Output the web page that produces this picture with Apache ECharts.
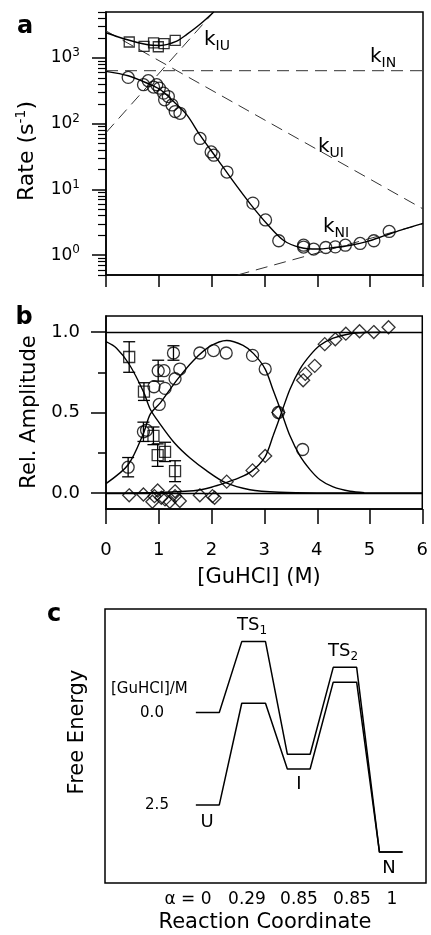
<!DOCTYPE html>
<html>
<head>
<meta charset="utf-8">
<script src="https://cdn.jsdelivr.net/npm/echarts@6/dist/echarts.min.js"></script>
<style>
html, body { margin: 0; padding: 0; background: #fff; }
#chartmain { width: 431px; height: 935px; }
</style>
</head>
<body>
<div id="chartmain"></div>
<script>
// ---- panel a: observed rates (s^-1) vs [GuHCl] (M)
var rateSquaresX = [0.44, 0.72, 0.9, 0.99, 1.1, 1.31];
var rateSquares = [1750, 1500, 1700, 1480, 1650, 1850];
var rateCirclesX = [0.42, 0.71, 0.80, 0.90, 0.96, 1.01, 1.09, 1.11, 1.18, 1.25, 1.31, 1.40, 1.78, 1.99, 2.04, 2.29, 2.78, 3.02, 3.27, 3.74, 3.74, 3.93, 4.16, 4.34, 4.53, 4.81, 5.07, 5.36];
var rateCircles = [506, 392, 451, 361, 392, 348, 292, 231, 259, 193, 153, 144, 59.7, 37.2, 33.2, 18.4, 6.2, 3.44, 1.66, 1.42, 1.33, 1.24, 1.31, 1.34, 1.42, 1.51, 1.66, 2.30];
var fastFitX = [0, 0.39, 0.77, 1.03, 1.34, 1.53, 1.78, 2.04];
var fastFit = [2420, 1910, 1600, 1550, 1800, 2280, 3250, 5000];
var slowFitX = [0, 0.42, 0.77, 1.03, 1.28, 1.53, 1.78, 2.1, 2.42, 2.73, 3.05, 3.37, 3.68, 4.0, 4.32, 4.63, 4.95, 5.27, 5.58, 6];
var slowFit = [626, 537, 416, 328, 217, 136, 67, 29.5, 12.9, 6.04, 2.98, 1.66, 1.31, 1.24, 1.31, 1.42, 1.62, 1.98, 2.41, 3.05];
var kINx = [0, 6], kIN = [640, 640];
var kUIx = [0, 6], kUI = [2580, 5.06];
var kIUx = [0, 2.04], kIU = [73, 5000];
var kNIx = [2.49, 6], kNI = [0.5, 3.0];
var rateTicks = [1, 10, 100, 1000];
var rateMinorTicks = [0.5, 0.6, 0.7, 0.8, 0.9, 2, 3, 4, 5, 6, 7, 8, 9, 20, 30, 40, 50, 60, 70, 80, 90,
  200, 300, 400, 500, 600, 700, 800, 900, 2000, 3000, 4000, 5000];

// ---- panel b: relative amplitudes
var ampSquaresX = [0.44, 0.72, 0.9, 0.98, 1.12, 1.31];
var ampSquares = [0.845, 0.63, 0.355, 0.235, 0.255, 0.135];
var ampSquaresErr = [0.095, 0.055, 0.055, 0.07, 0.06, 0.065];
var ampCirclesX = [0.42, 0.71, 0.77, 0.91, 0.99, 1.01, 1.10, 1.12, 1.28, 1.31, 1.40, 1.78, 2.04, 2.28, 2.78, 3.02, 3.27, 3.73];
var ampCircles = [0.16, 0.38, 0.39, 0.66, 0.76, 0.55, 0.76, 0.65, 0.87, 0.71, 0.77, 0.87, 0.885, 0.87, 0.855, 0.77, 0.5, 0.27];
var ampCirclesErr = [0.06, 0.06, 0, 0, 0.065, 0, 0, 0, 0.045, 0, 0, 0, 0, 0, 0, 0, 0, 0];
var ampDiamondsX = [0.44, 0.71, 0.88, 0.92, 0.98, 1.05, 1.12, 1.21, 1.31, 1.31, 1.40, 1.78, 2.02, 2.06, 2.29, 2.78, 3.02, 3.27, 3.74, 3.78, 3.96, 4.15, 4.35, 4.55, 4.81, 5.08, 5.36];
var ampDiamonds = [-0.015, -0.01, -0.055, -0.02, 0.015, -0.03, -0.04, -0.055, 0.01, -0.02, -0.05, -0.015, -0.02, -0.03, 0.07, 0.14, 0.23, 0.5, 0.70, 0.74, 0.79, 0.925, 0.955, 0.99, 1.005, 1.0, 1.03];
var fitUX = [0, 0.2, 0.44, 0.71, 0.84, 1.0, 1.3, 1.6, 1.9, 2.26, 2.73, 3.3, 4.0, 6.0];
var fitU = [0.94, 0.9, 0.8, 0.63, 0.52, 0.44, 0.31, 0.215, 0.14, 0.065, 0.02, 0.004, 0, 0];
var fitIX = [0, 0.42, 0.71, 0.84, 1.03, 1.34, 1.66, 1.97, 2.29, 2.6, 2.8, 3.02, 3.17, 3.33, 3.49, 3.68, 3.87, 4.06, 4.31, 4.63, 4.9];
var fitI = [0.058, 0.175, 0.37, 0.49, 0.56, 0.70, 0.824, 0.911, 0.948, 0.917, 0.866, 0.77, 0.64, 0.5, 0.355, 0.23, 0.145, 0.082, 0.037, 0.01, 0.002];
var fitNX = [0, 1.0, 1.5, 1.8, 2.0, 2.26, 2.5, 2.76, 3.02, 3.17, 3.33, 3.49, 3.68, 3.87, 4.06, 4.31, 4.63, 4.95, 5.3];
var fitN = [0, 0.003, 0.01, 0.02, 0.035, 0.062, 0.09, 0.134, 0.226, 0.355, 0.5, 0.645, 0.77, 0.855, 0.918, 0.963, 0.99, 0.998, 1.0];

// ---- panel c: free energy diagram (arbitrary units)
var stateNames = ['U', 'TS1', 'I', 'TS2', 'N'];
var stateStart = [28.3, 42.6, 56.8, 71.1, 85.5];
var stateEnd = [35.6, 50.0, 63.9, 78.4, 92.7];
var energy00 = [62.2, 88.1, 47.0, 78.7, 11.3];
var energy25 = [28.5, 65.6, 41.6, 73.3, 11.3];

function zip(xs, ys) {
  return xs.map(function (x, i) { return [x, ys[i]]; });
}
function profile(energies) {
  var d = [];
  for (var i = 0; i < energies.length; i++) {
    d.push([stateStart[i], energies[i]]);
    d.push([stateEnd[i], energies[i]]);
  }
  return d;
}

var FONT = 'DejaVu Sans';
var hollow = { color: 'rgba(0,0,0,0)', borderColor: '#000', borderWidth: 1.3 };
var fitStyle = { color: '#000', width: 1.4 };
var dashStyle = { color: '#333', width: 1, type: [12, 7] };

function fitLine(xi, yi, xs, ys, extra) {
  var s = {
    type: 'line', xAxisIndex: xi, yAxisIndex: yi, data: zip(xs, ys),
    smooth: 0.3, showSymbol: false, lineStyle: fitStyle, silent: true, z: 2
  };
  if (extra) for (var k in extra) s[k] = extra[k];
  return s;
}
function dashLine(xs, ys) {
  return {
    type: 'line', xAxisIndex: 0, yAxisIndex: 0, data: zip(xs, ys),
    showSymbol: false, lineStyle: dashStyle, silent: true, z: 1
  };
}
function dots(xi, yi, xs, ys, symbol, size) {
  return {
    type: 'scatter', xAxisIndex: xi, yAxisIndex: yi, data: zip(xs, ys),
    symbol: symbol, symbolSize: size, itemStyle: hollow, z: 5
  };
}
function errBars(xs, ys, es) {
  return {
    type: 'custom', xAxisIndex: 1, yAxisIndex: 2, z: 4, silent: true,
    data: xs.map(function (x, i) { return [x, ys[i], es[i]]; }).filter(function (d) { return d[2] > 0; }),
    renderItem: function (params, api) {
      var x = api.value(0), y = api.value(1), e = api.value(2);
      var top = api.coord([x, y + e]);
      var bot = api.coord([x, y - e]);
      var w = 6;
      var st = { stroke: '#000', lineWidth: 1.3 };
      return {
        type: 'group', children: [
          { type: 'line', shape: { x1: top[0], y1: top[1], x2: bot[0], y2: bot[1] }, style: st },
          { type: 'line', shape: { x1: top[0] - w, y1: top[1], x2: top[0] + w, y2: top[1] }, style: st },
          { type: 'line', shape: { x1: bot[0] - w, y1: bot[1], x2: bot[0] + w, y2: bot[1] }, style: st }
        ]
      };
    }
  };
}

var axisLine = { show: true, onZero: false, lineStyle: { color: '#000', width: 1.5 } };
var tickStyle = { color: '#000', width: 1.5 };
// thin strip under a panel whose split lines act as the outward x ticks
function tickStripAxis(gridIndex) {
  return { type: 'value', gridIndex: gridIndex, min: 0, max: 6, interval: 1,
    axisLine: { show: false }, axisTick: { show: false }, axisLabel: { show: false },
    splitLine: { show: true, lineStyle: { color: '#000', width: 1.5, type: 'solid' } } };
}
function hiddenY(gridIndex) {
  return { type: 'value', gridIndex: gridIndex, min: 0, max: 1, show: false, splitLine: { show: false } };
}

function txt(x, y, text, size, extra) {
  var style = { text: text, font: size + 'px "' + FONT + '"', fill: '#000', align: 'center', verticalAlign: 'middle' };
  if (extra) for (var k in extra) style[k] = extra[k];
  return { type: 'text', x: x, y: y, style: style, silent: true };
}
var subRich = {
  m: { fontFamily: FONT, fontSize: 20, lineHeight: 26, color: '#000' },
  s: { fontFamily: FONT, fontSize: 14, lineHeight: 14, verticalAlign: 'bottom', color: '#000' }
};
var subRichC = {
  m: { fontFamily: FONT, fontSize: 18, lineHeight: 24, color: '#000' },
  s: { fontFamily: FONT, fontSize: 12, lineHeight: 12, verticalAlign: 'bottom', color: '#000' }
};

var option = {
  animation: false,
  backgroundColor: '#fff',
  textStyle: { fontFamily: FONT },
  grid: [
    { left: 106, top: 12, width: 317, height: 263, show: true, borderColor: '#000', borderWidth: 1.5 },
    { left: 106, top: 316, width: 317, height: 193, show: true, borderColor: '#000', borderWidth: 1.5 },
    { left: 105, top: 609, width: 321, height: 274, show: true, borderColor: '#000', borderWidth: 1.5 },
    { left: 106, top: 275, width: 317, height: 12 },
    { left: 106, top: 509, width: 317, height: 15 }
  ],
  xAxis: [
    { type: 'value', gridIndex: 0, min: 0, max: 6, interval: 1, axisLine: axisLine,
      axisTick: { show: false }, axisLabel: { show: false }, splitLine: { show: false } },
    { type: 'value', gridIndex: 1, min: 0, max: 6, interval: 1, axisLine: axisLine,
      axisTick: { show: false },
      axisLabel: { margin: 32, fontSize: 18, color: '#000', fontFamily: FONT }, splitLine: { show: false } },
    { type: 'value', gridIndex: 2, min: 0, max: 100, show: false },
    tickStripAxis(3),
    tickStripAxis(4)
  ],
  yAxis: [
    { type: 'log', gridIndex: 0, position: 'left', min: 0.5, max: 5000, axisLine: axisLine,
      axisTick: { show: true, length: 14, lineStyle: tickStyle, customValues: rateTicks },
      axisLabel: {
        margin: 26, customValues: rateTicks, color: '#000',
        formatter: function (v) { return '{b|10}{p|' + Math.round(Math.log10(v)) + '}'; },
        rich: {
          b: { fontFamily: FONT, fontSize: 17, lineHeight: 22, color: '#000' },
          p: { fontFamily: FONT, fontSize: 12, lineHeight: 12, verticalAlign: 'top', color: '#000' }
        }
      },
      splitLine: { show: false } },
    { type: 'log', gridIndex: 0, position: 'left', min: 0.5, max: 5000, axisLine: { show: false },
      axisTick: { show: true, length: 8, lineStyle: { color: '#000', width: 1.2 }, customValues: rateMinorTicks },
      axisLabel: { show: false }, splitLine: { show: false } },
    { type: 'value', gridIndex: 1, position: 'left', min: -0.1, max: 1.1, axisLine: axisLine,
      axisTick: { show: true, length: 15, lineStyle: tickStyle, customValues: [0, 0.5, 1] },
      axisLabel: { margin: 26, fontSize: 18, color: '#000', fontFamily: FONT, customValues: [0, 0.5, 1],
        formatter: function (v) { return v.toFixed(1); } },
      splitLine: { show: false } },
    { type: 'value', gridIndex: 1, position: 'left', min: -0.1, max: 1.1, axisLine: { show: false },
      axisTick: { show: true, length: 8, lineStyle: tickStyle, customValues: [0.25, 0.75] },
      axisLabel: { show: false }, splitLine: { show: false } },
    { type: 'value', gridIndex: 2, min: 0, max: 100, show: false },
    hiddenY(3),
    hiddenY(4)
  ],
  series: [
    // panel a
    dashLine(kINx, kIN),
    dashLine(kUIx, kUI),
    dashLine(kIUx, kIU),
    dashLine(kNIx, kNI),
    fitLine(0, 0, fastFitX, fastFit),
    fitLine(0, 0, slowFitX, slowFit),
    dots(0, 0, rateSquaresX, rateSquares, 'rect', 10),
    dots(0, 0, rateCirclesX, rateCircles, 'circle', 12),
    // panel b
    fitLine(1, 2, fitUX, fitU, {
      markLine: {
        silent: true, symbol: 'none', label: { show: false },
        lineStyle: { color: '#000', width: 1.3, type: 'solid' },
        data: [{ yAxis: 0 }, { yAxis: 1 }]
      }
    }),
    fitLine(1, 2, fitIX, fitI),
    fitLine(1, 2, fitNX, fitN),
    errBars(ampSquaresX, ampSquares, ampSquaresErr),
    errBars(ampCirclesX, ampCircles, ampCirclesErr),
    dots(1, 2, ampSquaresX, ampSquares, 'rect', 11),
    dots(1, 2, ampCirclesX, ampCircles, 'circle', 12),
    dots(1, 2, ampDiamondsX, ampDiamonds, 'diamond', 13),
    // panel c
    { type: 'line', xAxisIndex: 2, yAxisIndex: 4, data: profile(energy00), showSymbol: false,
      lineStyle: { color: '#000', width: 1.5 }, silent: true },
    { type: 'line', xAxisIndex: 2, yAxisIndex: 4, data: profile(energy25), showSymbol: false,
      lineStyle: { color: '#000', width: 1.5 }, silent: true },
    // empty series keeping the tick strips alive
    { type: 'line', xAxisIndex: 3, yAxisIndex: 5, data: [], silent: true },
    { type: 'line', xAxisIndex: 4, yAxisIndex: 6, data: [], silent: true }
  ],
  graphic: [
    txt(25, 27, 'a', 24, { font: 'bold 24px "' + FONT + '"' }),
    txt(24, 318, 'b', 24, { font: 'bold 24px "' + FONT + '"' }),
    txt(54, 615, 'c', 24, { font: 'bold 24px "' + FONT + '"' }),
    // axis titles
    { type: 'text', x: 27, y: 151, rotation: Math.PI / 2, silent: true,
      style: { text: '{t|Rate (s}{p|-1}{t|)}', align: 'center', verticalAlign: 'middle',
        rich: {
          t: { fontFamily: FONT, fontSize: 22, lineHeight: 26, color: '#000' },
          p: { fontFamily: FONT, fontSize: 14, lineHeight: 13, verticalAlign: 'top', color: '#000' }
        } } },
    { type: 'text', x: 30, y: 412, rotation: Math.PI / 2, silent: true,
      style: { text: 'Rel. Amplitude', font: '21px "' + FONT + '"', fill: '#000', align: 'center', verticalAlign: 'middle' } },
    txt(259, 578, '[GuHCl] (M)', 21),
    // rate constant labels
    txt(204, 40, '{m|k}{s|IU}', 20, { align: 'left', rich: subRich }),
    txt(370, 57, '{m|k}{s|IN}', 20, { align: 'left', rich: subRich }),
    txt(318, 147, '{m|k}{s|UI}', 20, { align: 'left', rich: subRich }),
    txt(323, 227, '{m|k}{s|NI}', 20, { align: 'left', rich: subRich }),
    // panel c labels
    { type: 'text', x: 78, y: 732, rotation: Math.PI / 2, silent: true,
      style: { text: 'Free Energy', font: '21px "' + FONT + '"', fill: '#000', align: 'center', verticalAlign: 'middle' } },
    txt(111, 689, '[GuHCl]/M', 15, { align: 'left' }),
    txt(152, 713, '0.0', 15),
    txt(157, 805, '2.5', 15),
    txt(237, 625, '{m|TS}{s|1}', 18, { align: 'left', rich: subRichC }),
    txt(328, 651, '{m|TS}{s|2}', 18, { align: 'left', rich: subRichC }),
    txt(299, 784, 'I', 18),
    txt(207, 822, 'U', 18),
    txt(389, 868, 'N', 18),
    txt(188, 900, '\u03b1 = 0', 17),
    txt(247, 900, '0.29', 17),
    txt(299, 900, '0.85', 17),
    txt(352, 900, '0.85', 17),
    txt(392, 900, '1', 17),
    txt(265, 923, 'Reaction Coordinate', 21)
  ]
};

var myChart = echarts.init(document.getElementById('chartmain'));
myChart.setOption(option);
</script>
</body>
</html>
